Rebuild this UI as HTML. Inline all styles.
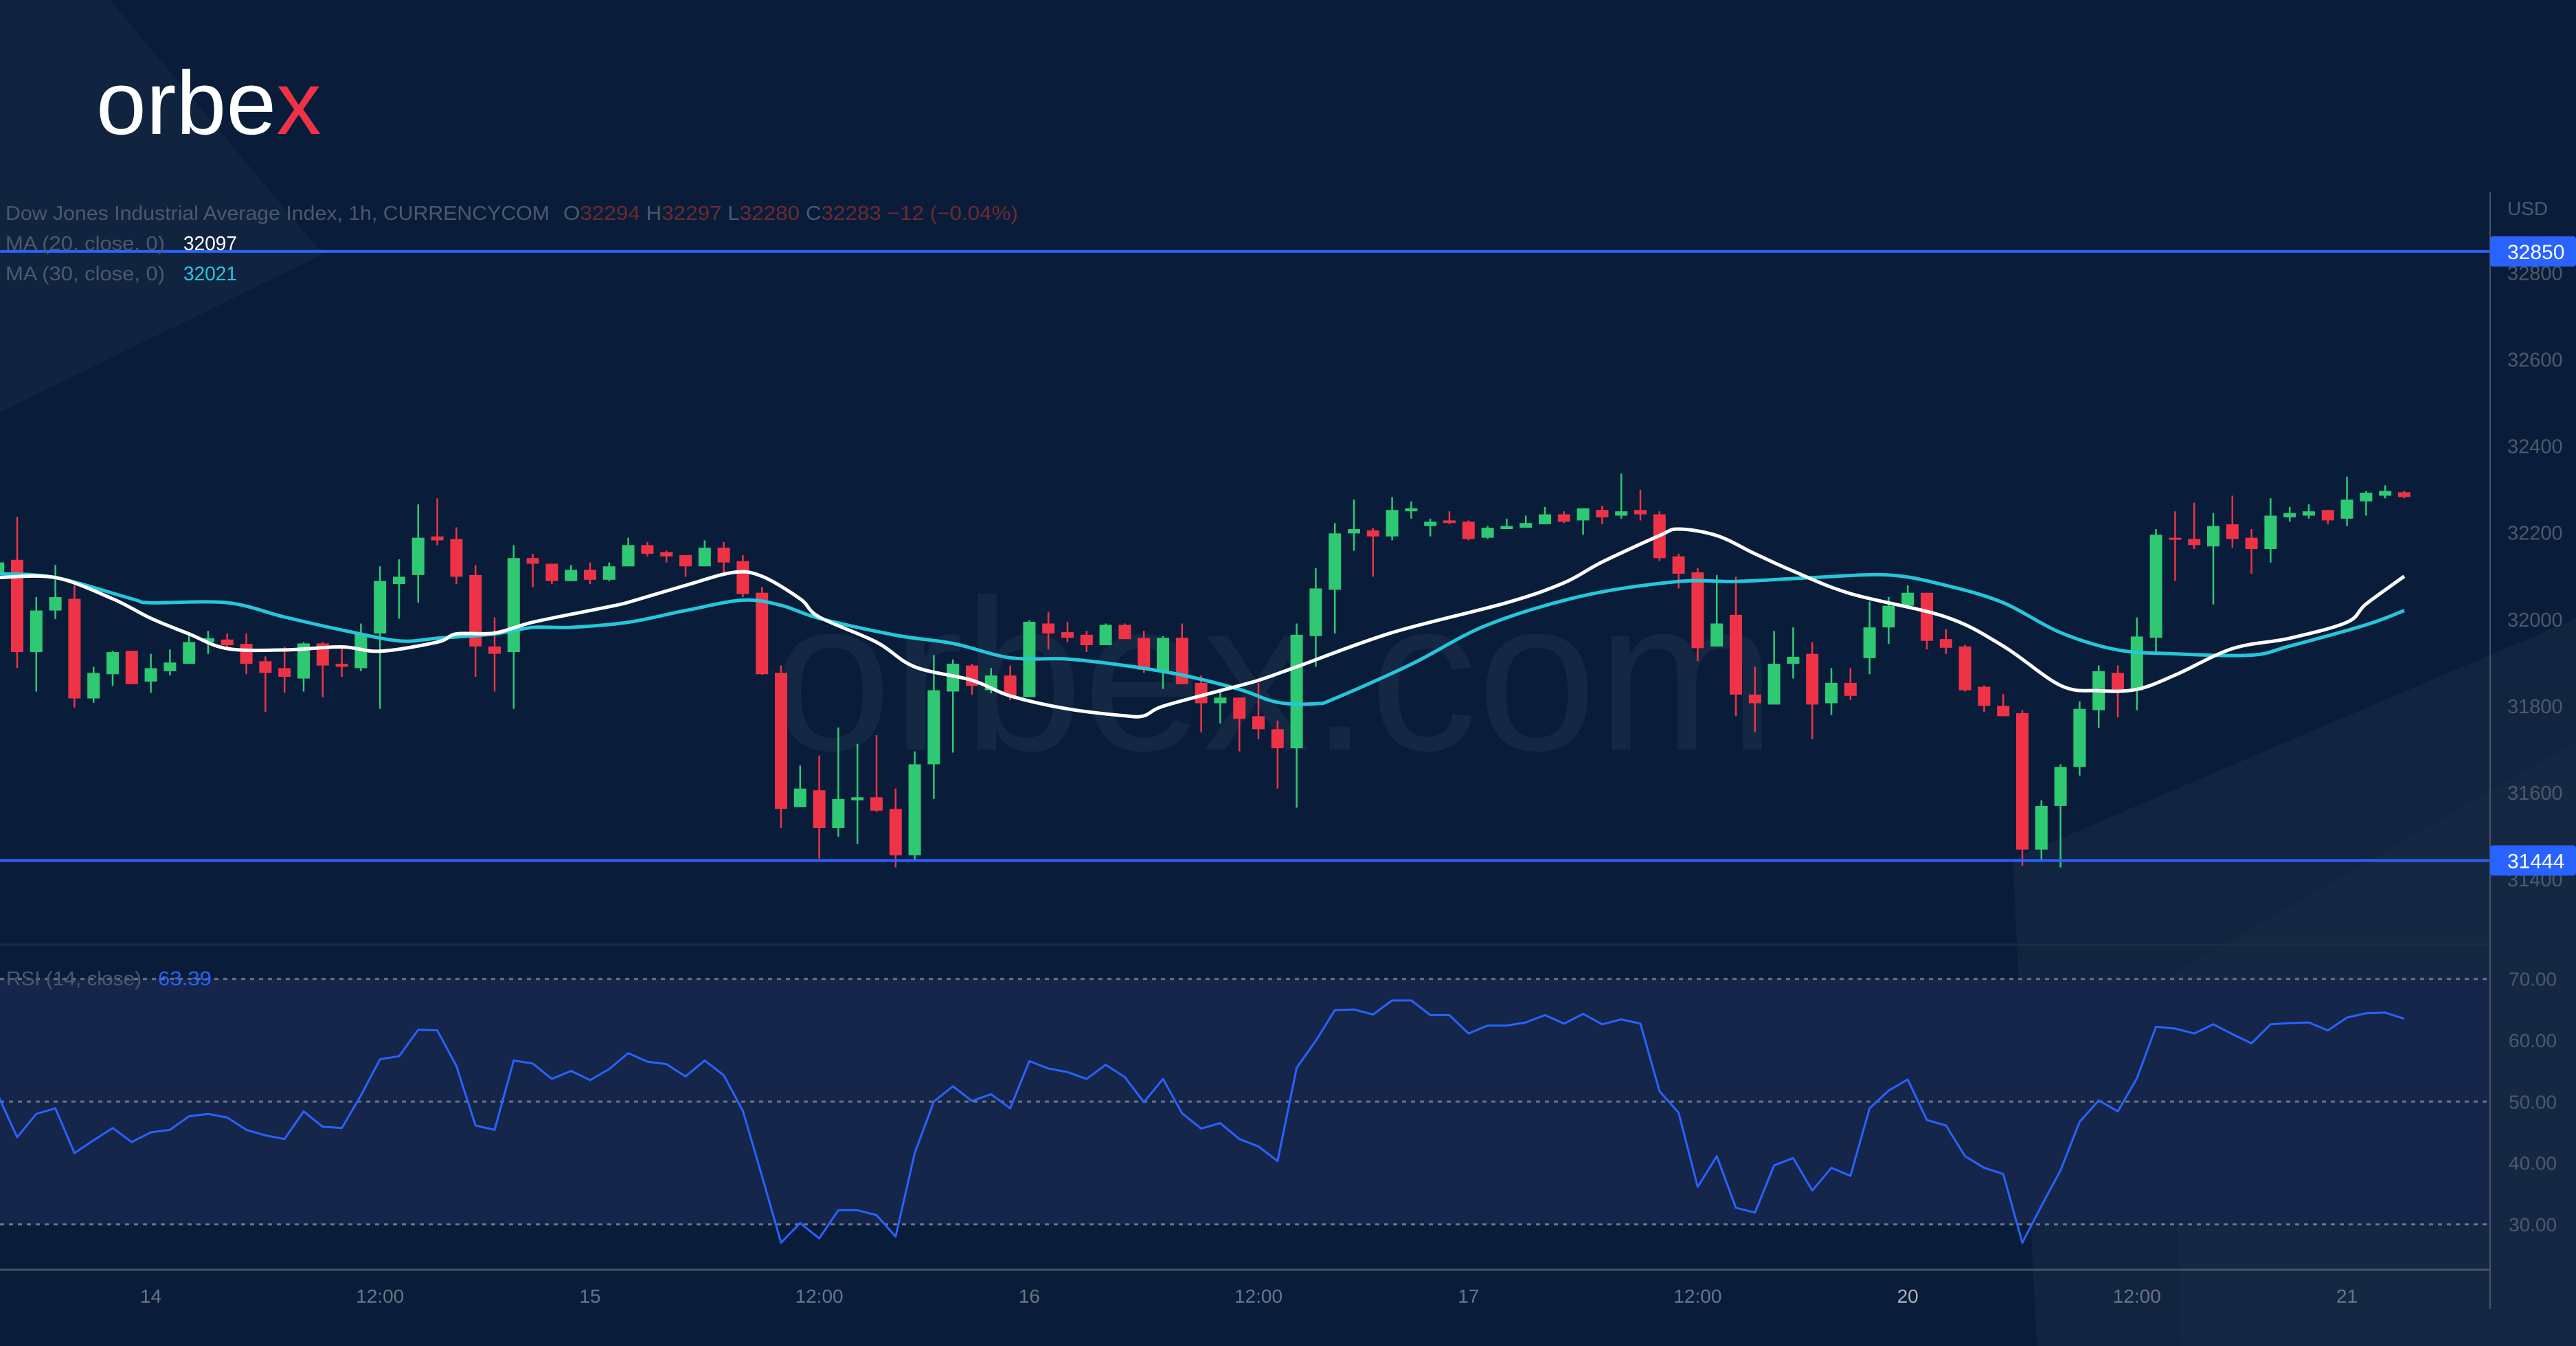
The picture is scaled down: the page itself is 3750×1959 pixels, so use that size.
<!DOCTYPE html>
<html><head><meta charset="utf-8"><style>
html,body{margin:0;padding:0;background:#091d3a;}
svg{display:block;font-family:"Liberation Sans",sans-serif;}
</style></head><body>
<svg id="chart" width="3750" height="1959" viewBox="0 0 3750 1959" xmlns="http://www.w3.org/2000/svg">
<rect x="0" y="0" width="3750" height="1959" fill="#091d3a"/>
<polygon points="0,0 160,0 470,370 0,600" fill="#ffffff" opacity="0.03"/>
<polygon points="2930,1250 3750,900 3750,1959 2965,1959" fill="#ffffff" opacity="0.035"/>
<polygon points="3160,1420 3750,1080 3750,1959 3175,1959" fill="#ffffff" opacity="0.02"/>
<text x="1124" y="1091" font-size="313" fill="#ffffff" opacity="0.045">orbex.com</text>
<g>
<text x="140" y="195" font-size="131" fill="#ffffff">orbe<tspan fill="#ef3346">x</tspan></text>
</g>
<g id="rsiband"></g>
<g id="grid"></g>
<g id="candles"></g>
<g id="mas"></g>
<g id="rsi"></g>
<g id="axes"></g>
<g font-size="29">
<text x="8" y="320" fill="#4f586a" textLength="792" lengthAdjust="spacingAndGlyphs">Dow Jones Industrial Average Index, 1h, CURRENCYCOM</text>
<text x="820" y="320" fill="#4f586a" textLength="662" lengthAdjust="spacingAndGlyphs">O<tspan fill="#6e2a30">32294</tspan>  H<tspan fill="#6e2a30">32297</tspan>  L<tspan fill="#6e2a30">32280</tspan>  C<tspan fill="#6e2a30">32283</tspan>  <tspan fill="#6e2a30">−12 (−0.04%)</tspan></text>
<text x="8" y="364" fill="#4f586a" textLength="232" lengthAdjust="spacingAndGlyphs">MA (20, close, 0)</text>
<text x="267" y="364" fill="#ffffff" textLength="78" lengthAdjust="spacingAndGlyphs">32097</text>
<text x="8" y="408" fill="#4f586a" textLength="232" lengthAdjust="spacingAndGlyphs">MA (30, close, 0)</text>
<text x="267" y="408" fill="#26c6da" textLength="78" lengthAdjust="spacingAndGlyphs">32021</text>
<text x="9" y="1434" fill="#4f586a" textLength="197" lengthAdjust="spacingAndGlyphs">RSI (14, close)</text>
<text x="230" y="1434" fill="#2962ff" textLength="78" lengthAdjust="spacingAndGlyphs">63.39</text>
</g>
</svg>
<script>
const opens=[32103,32138,31925,32021,32048,31818,31874,31928,31857,31881,31898,31948,31954,31944,31904,31888,31864,31945,31898,31888,31968,32082,32103,32192,32186,32103,31938,31925,32142,32129,32089,32115,32092,32123,32172,32156,32149,32123,32166,32135,32062,31877,31567,31606,31519,31583,31590,31563,31456,31666,31834,31894,31837,31871,31821,31991,31971,31965,31941,31988,31958,31881,31958,31854,31807,31820,31777,31747,31703,31962,32069,32199,32206,32192,32250,32216,32229,32226,32189,32209,32212,32220,32243,32229,32253,32240,32253,32243,32146,32109,31938,32011,31827,31804,31898,31921,31807,31854,31911,31982,32032,32062,31955,31938,31845,31801,31784,31469,31570,31660,31791,31877,31837,31958,32189,32186,32169,32220,32189,32163,32236,32240,32253,32233,32273,32286,32294];
const highs=[32140,32237,32052,32126,32079,31891,31928,31928,31921,31931,31970,31974,31968,31968,31915,31937,31948,31948,31937,31991,32123,32139,32266,32280,32213,32126,32005,32172,32152,32129,32126,32132,32132,32189,32179,32159,32149,32183,32179,32149,32075,31894,31663,31686,31751,31713,31733,31610,31696,31918,31908,31898,31888,31894,31998,32018,31995,31974,31991,31991,31974,31962,31991,31871,31834,31820,31854,31767,31991,32119,32223,32277,32212,32283,32273,32233,32250,32229,32216,32233,32240,32260,32250,32257,32263,32337,32300,32250,32152,32119,32103,32099,31891,31974,31982,31948,31888,31888,32042,32052,32079,32062,31978,31942,31848,31828,31791,31583,31666,31811,31894,31894,32005,32209,32250,32270,32246,32286,32209,32280,32260,32266,32253,32330,32297,32310,32297];
const lows=[32100,31888,31834,32001,31797,31808,31847,31851,31831,31871,31898,31921,31933,31874,31787,31831,31834,31821,31868,31881,31794,32002,32039,32172,32082,31868,31834,31794,32075,32082,32089,32082,32089,32123,32146,32132,32099,32123,32102,32052,31872,31519,31567,31448,31499,31482,31556,31428,31441,31586,31693,31827,31830,31814,31821,31931,31948,31925,31941,31955,31877,31840,31851,31740,31760,31696,31724,31610,31566,31891,31968,32159,32099,32183,32233,32192,32220,32183,32186,32209,32212,32220,32223,32196,32220,32233,32229,32135,32072,31904,31938,31777,31740,31804,31864,31724,31780,31814,31874,31944,32032,31931,31921,31834,31787,31777,31432,31442,31428,31640,31750,31774,31791,31925,32089,32163,32035,32166,32106,32132,32226,32233,32220,32216,32240,32280,32280];
const closes=[32132,31925,32021,32052,31818,31877,31925,31851,31888,31901,31948,31957,31941,31898,31877,31868,31945,31894,31891,31968,32089,32099,32189,32183,32099,31938,31921,32142,32129,32089,32115,32092,32123,32172,32152,32146,32123,32166,32132,32059,31874,31563,31610,31519,31586,31590,31559,31456,31666,31837,31898,31847,31871,31824,31995,31968,31958,31941,31988,31955,31884,31958,31851,31807,31820,31771,31747,31703,31965,32072,32199,32209,32192,32253,32257,32226,32223,32186,32212,32216,32223,32243,32226,32257,32236,32250,32243,32142,32106,31934,31991,31827,31807,31898,31914,31804,31854,31824,31982,32032,32062,31951,31935,31837,31801,31777,31469,31570,31660,31794,31881,31837,31961,32196,32186,32172,32216,32186,32163,32240,32246,32250,32229,32277,32293,32297,32283];
const ma20Idx=[0,3,6,8,10,12,15,18,20,23,24,26,28,31,32,33,36,38.5,40,42,43,46,48,51,53,56,59,60,61,64,66,68,73,79,82,84,87,88,90,92,94,97,102,105,108,110,112,114,117,120,123,124,126];
const ma20Val=[32097,32097,32048,32003,31967,31933,31930,31937,31927,31948,31967,31969,31994,32021,32030,32040,32079,32109,32100,32048,32006,31948,31891,31860,31824,31794,31778,31778,31800,31836,31860,31891,31970,32039,32085,32133,32194,32209,32194,32152,32112,32060,32006,31939,31848,31836,31839,31872,31933,31957,31994,32036,32100];
const ma30Idx=[0,3,7,8,12,15,18,21,23,26,28,30,33,36,39,41,43,47,50,53,56,59,62,65,67,69,70,74,78,83,88,91,95,99,102,105,108,111,114,118,120,124,126];
const ma30Val=[32106,32097,32048,32039,32039,32006,31976,31951,31957,31967,31982,31982,31994,32021,32045,32033,32003,31964,31945,31912,31909,31894,31872,31839,31809,31806,31818,31897,31988,32055,32088,32088,32097,32103,32079,32039,31970,31930,31921,31918,31939,31988,32021];
const rsiVals=[51.0,44.2,48.0,48.9,41.6,43.7,45.7,43.4,45.0,45.4,47.6,48.0,47.4,45.4,44.5,43.9,48.4,45.9,45.7,51.0,56.9,57.4,61.7,61.6,55.8,46.1,45.4,56.7,56.2,53.7,55.0,53.5,55.3,57.9,56.5,56.1,54.1,56.7,54.3,48.5,37.9,27.0,30.2,27.7,32.3,32.3,31.5,28.0,41.6,50.0,52.5,50.1,51.2,48.9,56.6,55.4,54.8,53.7,56.0,54.0,49.9,53.7,48.1,45.6,46.5,43.9,42.7,40.3,55.5,59.9,64.9,65.0,64.2,66.5,66.5,64.1,64.1,61.1,62.4,62.4,62.9,64.1,62.7,64.3,62.6,63.4,62.7,51.7,48.2,36.1,41.1,32.7,31.9,39.6,40.8,35.5,39.2,37.9,48.9,51.8,53.6,47.0,46.1,41.1,39.2,38.2,27.0,33.0,38.8,46.7,50.2,48.4,53.8,62.2,61.9,61.1,62.6,61.0,59.5,62.6,62.8,62.9,61.6,63.7,64.4,64.5,63.5];
const priceTicks=[32800,32600,32400,32200,32000,31800,31600,31400];
const rsiTicks=[70,60,50,40,30];
const rsiLevels=[70,50,30];
const hLevels=[32850,31444];
const xTickIdx=[8,20,31,43,54,66,77,89,100,112,123];
const xTickLabels=["14","12:00","15","12:00","16","12:00","17","12:00","20","12:00","21"];

const NS="http://www.w3.org/2000/svg";
const X=i=>-2.8+i*27.8;
const Y=p=>901.8-(p-32000)/1.586;
const RY=v=>1603.3-(v-50)*8.93;
const AXX=3625;
function mk(tag,attrs,parent){const e=document.createElementNS(NS,tag);for(const k in attrs)e.setAttribute(k,attrs[k]);parent.appendChild(e);return e;}
const gB=document.getElementById('rsiband'),gG=document.getElementById('grid'),gC=document.getElementById('candles'),gM=document.getElementById('mas'),gR=document.getElementById('rsi'),gA=document.getElementById('axes');

let band=mk('rect',{x:0,y:RY(70),width:AXX,height:RY(30)-RY(70),fill:'#15264a'},gB);


rsiLevels.forEach(v=>{const l=mk('line',{x1:0,x2:AXX,y1:RY(v),y2:RY(v),stroke:'#6b7385','stroke-width':3,'stroke-dasharray':'6 7'},gB);

});

let sep=mk('line',{x1:0,x2:AXX,y1:1375,y2:1375,stroke:'#1d2c47','stroke-width':3},gG);


let bot=mk('line',{x1:0,x2:AXX,y1:1848,y2:1848,stroke:'#4a5264','stroke-width':3},gG);



for(let i=0;i<opens.length;i++){
  const up=closes[i]>=opens[i];const col=up?'#2ec972':'#ef3346';
  const g=mk('g',{},gC);
  
  
  mk('line',{x1:X(i),x2:X(i),y1:Y(highs[i]),y2:Y(lows[i]),stroke:col,'stroke-width':2.5},g);
  const t=Y(Math.max(opens[i],closes[i])),b=Y(Math.min(opens[i],closes[i]));
  mk('rect',{x:X(i)-9,y:t,width:18,height:Math.max(3,b-t),fill:col},g);
}
function path(idx,val,fy){return idx.map((k,j)=>(j?'L':'M')+X(k).toFixed(1)+','+fy(val[j]).toFixed(1)).join(' ');}
function smooth(idx,val,fy){
  const P=idx.map((k,j)=>[X(k),fy(val[j])]);
  let d='M'+P[0][0].toFixed(1)+','+P[0][1].toFixed(1);
  for(let j=0;j<P.length-1;j++){
    const p0=P[j-1]||P[j],p1=P[j],p2=P[j+1],p3=P[j+2]||P[j+1];
    const c1=[p1[0]+(p2[0]-p0[0])/6,p1[1]+(p2[1]-p0[1])/6];
    const c2=[p2[0]-(p3[0]-p1[0])/6,p2[1]-(p3[1]-p1[1])/6];
    d+=' C'+c1[0].toFixed(1)+','+c1[1].toFixed(1)+' '+c2[0].toFixed(1)+','+c2[1].toFixed(1)+' '+p2[0].toFixed(1)+','+p2[1].toFixed(1);
  }
  return d;
}
let m30=mk('path',{d:smooth(ma30Idx,ma30Val,Y),fill:'none',stroke:'#26c6da','stroke-width':5,'stroke-linejoin':'round'},gM);


let m20=mk('path',{d:smooth(ma20Idx,ma20Val,Y),fill:'none',stroke:'#ffffff','stroke-width':5,'stroke-linejoin':'round'},gM);


const ri=rsiVals.map((v,i)=>i);
let rl=mk('path',{d:path(ri,rsiVals,RY),fill:'none',stroke:'#2962ff','stroke-width':3,'stroke-linejoin':'round'},gR);



hLevels.forEach(p=>{const l=mk('line',{x1:0,x2:AXX,y1:Y(p),y2:Y(p),stroke:'#2962ff','stroke-width':4},gA);

});

let ax=mk('line',{x1:AXX,x2:AXX,y1:280,y2:1905,stroke:'#4a5264','stroke-width':2},gA);


let usd=mk('text',{x:3650,y:313,'font-size':28,fill:'#4f586a'},gA);usd.textContent='USD';


priceTicks.forEach(p=>{const t=mk('text',{x:3650,y:Y(p)+10,'font-size':29,fill:'#4f586a'},gA);t.textContent=p;

});
hLevels.forEach(p=>{const r=mk('rect',{x:AXX,y:Y(p)-22,width:125,height:44,rx:4,fill:'#2962ff'},gA);


const t=mk('text',{x:3650,y:Y(p)+11,'font-size':30,fill:'#ffffff'},gA);t.textContent=p;

});
rsiTicks.forEach(v=>{const t=mk('text',{x:3652,y:RY(v)+10,'font-size':28,fill:'#4f586a'},gA);t.textContent=v.toFixed(2);

});
xTickIdx.forEach((k,j)=>{const t=mk('text',{x:X(k),y:1896,'font-size':28,fill:xTickLabels[j]==='20'?'#aab0bc':'#6b7385','text-anchor':'middle'},gA);t.textContent=xTickLabels[j];

});
</script>
</body></html>
